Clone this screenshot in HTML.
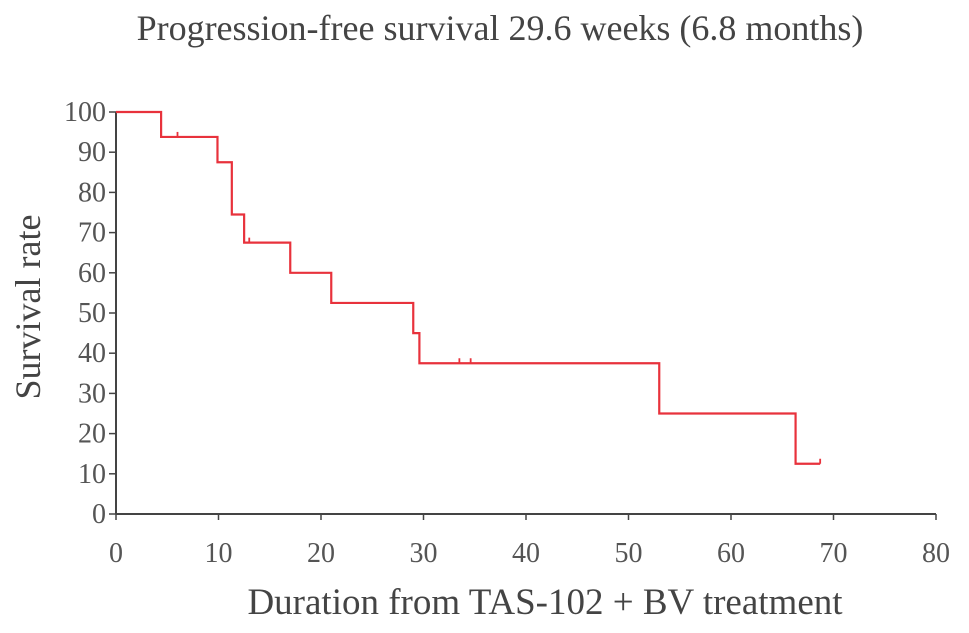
<!DOCTYPE html>
<html><head><meta charset="utf-8"><style>
html,body{margin:0;padding:0;background:#fff;}
svg{display:block;font-family:"Liberation Serif",serif;}
</style></head><body>
<svg id="chart" width="969" height="633" viewBox="0 0 969 633">
<text x="500" y="40" text-anchor="middle" font-size="36" fill="#444">Progression-free survival 29.6 weeks (6.8 months)</text>
<text x="545" y="614" text-anchor="middle" font-size="37" fill="#444">Duration from TAS-102 + BV treatment</text>
<text transform="translate(40,307) rotate(-90)" text-anchor="middle" font-size="36" fill="#444">Survival rate</text>
<g id="axes"></g>
<g id="series"></g>
</svg>
<script>
const xTicks=[0,10,20,30,40,50,60,70,80];
const yTicks=[0,10,20,30,40,50,60,70,80,90,100];
const stepTimes=[0,4.4,9.9,11.3,12.5,17,21,29,29.6,53,66.3,68.7];
const stepValues=[100,93.8,87.5,74.5,67.5,60,52.5,45,37.5,25,12.5,12.5];
const censorTimes=[6,13,33.5,34.6,68.7];
const censorValues=[93.8,67.5,37.5,37.5,12.5];

const X0=116,X1=936,Y0=514,Y1=112;
const xs=v=>X0+(v-0)/80*(X1-X0);
const ys=v=>Y0-(v-0)/100*(Y0-Y1);
const NS="http://www.w3.org/2000/svg";
const axes=document.getElementById('axes');
const series=document.getElementById('series');
function mk(tag,attrs,parent){const e=document.createElementNS(NS,tag);for(const k in attrs)e.setAttribute(k,attrs[k]);parent.appendChild(e);return e;}

const yl=mk('line',{x1:X0,y1:Y1,x2:X0,y2:Y0,stroke:'#444','stroke-width':2},axes);


const xl=mk('line',{x1:X0,y1:Y0,x2:X1,y2:Y0,stroke:'#444','stroke-width':2},axes);



xTicks.forEach(t=>{
  const l=mk('line',{x1:xs(t),y1:Y0,x2:xs(t),y2:Y0+6,stroke:'#444','stroke-width':1.5},axes);
  
  
  const tx=mk('text',{x:xs(t),y:Y0+48,'text-anchor':'middle','font-size':28,fill:'#555'},axes);
  tx.textContent=t;
  
  
});
yTicks.forEach(t=>{
  const l=mk('line',{x1:X0-7,y1:ys(t),x2:X0,y2:ys(t),stroke:'#444','stroke-width':1.5},axes);
  
  
  const tx=mk('text',{x:X0-10,y:ys(t)+9,'text-anchor':'end','font-size':28,fill:'#555'},axes);
  tx.textContent=t;
  
  
});

let d='M'+xs(stepTimes[0])+','+ys(stepValues[0]);
for(let i=1;i<stepTimes.length;i++){
  d+=' H'+xs(stepTimes[i])+' V'+ys(stepValues[i]);
}
const p=mk('path',{d:d,fill:'none',stroke:'#e8323c','stroke-width':2.2},series);


censorTimes.forEach((t,i)=>{
  const c=mk('line',{x1:xs(t),y1:ys(censorValues[i])-5,x2:xs(t),y2:ys(censorValues[i]),stroke:'#e8323c','stroke-width':1.8},series);
  
  
});
</script>
</body></html>
